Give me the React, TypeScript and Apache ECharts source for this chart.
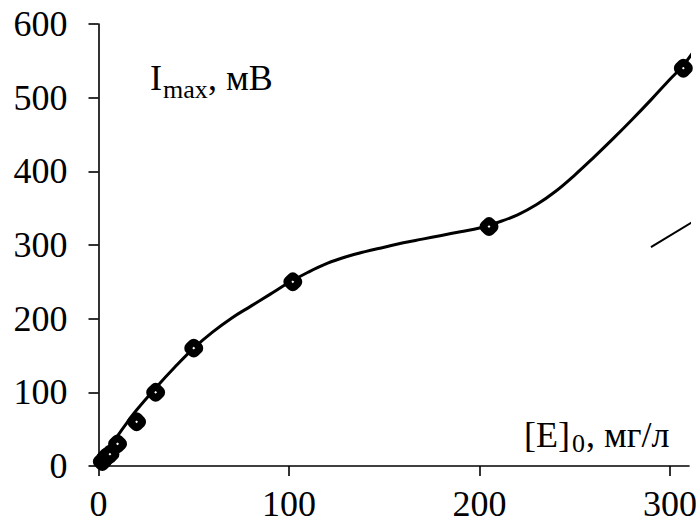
import React, { useEffect, useRef } from "react";
import * as echarts from "echarts";

// Measured points (concentration, signal)
const pointX = [2, 4, 6, 10, 20, 30, 50, 102, 205, 307];
const pointY = [6, 12, 16, 30, 60, 100, 160, 250, 325, 540];

// Fitted smooth curve
const curveX = [0, 5, 10, 15, 20, 30, 40, 50, 60, 70, 80, 90, 100, 110, 120, 130, 140, 150, 160, 170, 180, 190, 200, 210, 220, 230, 240, 250, 260, 270, 280, 290, 300, 307, 313];
const curveY = [0, 22, 41, 59, 76, 106, 134, 160, 182, 201, 217, 233, 249, 263, 275, 284, 291, 297, 303, 308, 313, 318, 323, 331, 341, 355, 373, 395, 419, 444, 470, 497, 525, 544, 565];

// Stray straight segment at right
const segX = [290, 318];
const segY = [297, 341];

const xTicks = [0, 100, 200, 300];
const yTicks = [0, 100, 200, 300, 400, 500, 600];

const FONT = "'Liberation Serif', 'Times New Roman', serif";

export default function App() {
  const ref = useRef<HTMLDivElement>(null);
  useEffect(() => {
    if (!ref.current) return;
    const chart = echarts.init(ref.current, null, { renderer: "svg" });
    const axisCommon = {
      type: "value" as const,
      axisLine: { show: true, lineStyle: { color: "#000", width: 1.6 } },
      axisTick: { show: true, length: 10, lineStyle: { color: "#000", width: 1.6 } },
      splitLine: { show: false },
    };
    chart.setOption({
      animation: false,
      backgroundColor: "#fff",
      grid: { left: 98.5, right: 10.5, top: 24, bottom: 59, containLabel: false },
      xAxis: {
        ...axisCommon,
        min: 0,
        max: 310,
        interval: 100,
        axisTick: { ...axisCommon.axisTick, customValues: xTicks },
        axisLabel: {
          customValues: xTicks,
          color: "#000",
          fontFamily: FONT,
          fontSize: 36,
          lineHeight: 32,
          margin: 22,
        },
      },
      yAxis: {
        ...axisCommon,
        min: 0,
        max: 600,
        interval: 100,
        axisTick: { ...axisCommon.axisTick, customValues: yTicks },
        axisLabel: {
          customValues: yTicks,
          color: "#000",
          fontFamily: FONT,
          fontSize: 36,
          margin: 31,
        },
      },
      series: [
        {
          type: "line",
          data: curveX.map((x, i) => [x, curveY[i]]),
          smooth: 0.4,
          showSymbol: false,
          clip: false,
          lineStyle: { color: "#000", width: 3 },
          z: 2,
        },
        {
          type: "line",
          data: segX.map((x, i) => [x, segY[i]]),
          showSymbol: false,
          clip: false,
          lineStyle: { color: "#000", width: 2 },
          z: 2,
        },
        {
          type: "scatter",
          data: pointX.map((x, i) => [x, pointY[i]]),
          symbol: "roundRect",
          symbolSize: 9.5,
          symbolRotate: 45,
          clip: false,
          itemStyle: { color: "#fff", borderColor: "#000", borderWidth: 7.5, opacity: 1 },
          z: 3,
        },
      ],
      graphic: [
        { type: "text", x: 150, y: 78, style: { text: "I", font: `36px ${FONT}`, fill: "#000", verticalAlign: "middle", align: "left" } },
        { type: "text", x: 163, y: 89, style: { text: "max", font: `26px ${FONT}`, fill: "#000", verticalAlign: "middle", align: "left" } },
        { type: "text", x: 208, y: 78, style: { text: ", мВ", font: `36px ${FONT}`, fill: "#000", verticalAlign: "middle", align: "left" } },
        { type: "text", x: 524, y: 435, style: { text: "[E]", font: `36px ${FONT}`, fill: "#000", verticalAlign: "middle", align: "left" } },
        { type: "text", x: 572, y: 443, style: { text: "0", font: `26px ${FONT}`, fill: "#000", verticalAlign: "middle", align: "left" } },
        { type: "text", x: 586, y: 435, style: { text: ", мг/л", font: `36px ${FONT}`, fill: "#000", verticalAlign: "middle", align: "left" } },
      ],
    });
    return () => chart.dispose();
  }, []);
  return (
    <div
      ref={ref}
      style={{ position: "fixed", left: 0, top: 0, width: 700, height: 525 }}
    />
  );
}
